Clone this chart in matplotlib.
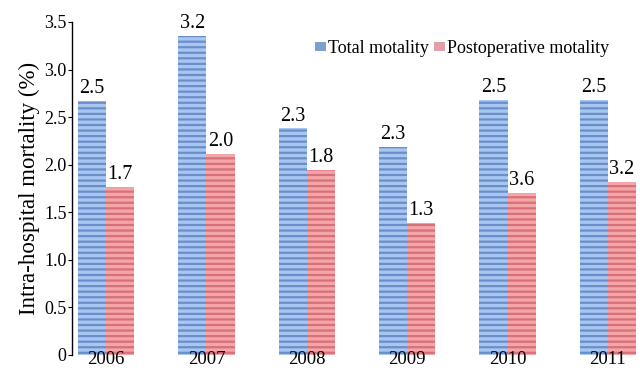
import numpy as np
import matplotlib
matplotlib.use("Agg")
import matplotlib.pyplot as plt
from matplotlib.patches import Patch

years = ["2006", "2007", "2008", "2009", "2010", "2011"]
# bar heights as drawn in the figure
total_mortality = [2.67, 3.35, 2.38, 2.19, 2.68, 2.68]
postop_mortality = [1.77, 2.11, 1.94, 1.39, 1.70, 1.82]
# numbers printed above the bars
total_labels = ["2.5", "3.2", "2.3", "2.3", "2.5", "2.5"]
postop_labels = ["1.7", "2.0", "1.8", "1.3", "3.6", "3.2"]

plt.rcParams["font.family"] = "Liberation Serif"
plt.rcParams["hatch.linewidth"] = 1.6

fig = plt.figure(figsize=(6.4, 3.72), dpi=100)
ax = fig.add_axes([0.1125, 0.046, 0.8875, 0.895])

x = np.arange(len(years))
w = 0.28
blue_face, blue_stripe = "#a8c6f2", "#6a8fc8"
red_face, red_stripe = "#f5a5a5", "#d6707a"

ax.bar(x - w / 2, total_mortality, w, color=blue_face, edgecolor=blue_stripe,
       hatch="---", linewidth=0)
ax.bar(x + w / 2, postop_mortality, w, color=red_face, edgecolor=red_stripe,
       hatch="---", linewidth=0)

# value labels
for i in range(len(years)):
    ax.text(x[i] - w / 2, total_mortality[i] + 0.03, total_labels[i],
            ha="center", va="bottom", fontsize=14.5)
    ax.text(x[i] + w / 2, postop_mortality[i] + 0.03, postop_labels[i],
            ha="center", va="bottom", fontsize=14.5)

ax.set_xlim(-0.34, 5.32)
ax.set_ylim(0, 3.5)
ax.set_yticks([0, 0.5, 1.0, 1.5, 2.0, 2.5, 3.0, 3.5])
ax.set_yticklabels(["0", "0.5", "1.0", "1.5", "2.0", "2.5", "3.0", "3.5"],
                   fontsize=13)
ax.set_xticks(x)
ax.set_xticklabels(years, fontsize=13.5)
ax.tick_params(axis="x", length=0, pad=-2.5)
ax.tick_params(axis="y", length=3, width=0.8, pad=1)
ax.set_ylabel("Intra-hospital mortality (%)", fontsize=16.5, labelpad=3)

for s in ["top", "right", "bottom"]:
    ax.spines[s].set_visible(False)
ax.spines["left"].set_linewidth(1.0)

handles = [Patch(facecolor="#7f9fcc", edgecolor="none"),
           Patch(facecolor="#e0a0aa", edgecolor="none")]
ax.legend(handles, ["Total motality", "Postoperative motality"], ncol=2,
          frameon=False, fontsize=13, handlelength=0.6, handleheight=0.45,
          handletextpad=0.1, columnspacing=0.3,
          loc="upper left", bbox_to_anchor=(0.40, 0.995))

fig.savefig("out.png", dpi=100)
